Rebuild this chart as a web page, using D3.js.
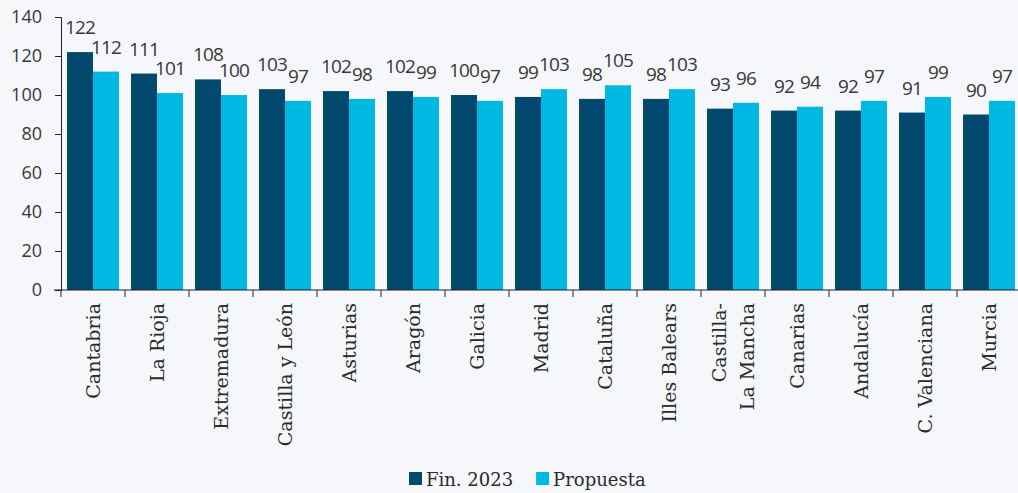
<!DOCTYPE html>
<html lang="es">
<head>
<meta charset="utf-8">
<title>Fin. 2023 vs Propuesta</title>
<script src="https://cdn.jsdelivr.net/npm/d3@7"></script>
<style>
html,body {margin:0; padding:0; background:#f5f7fa;}
svg {display:block;}
.num {font-family:"Open Sans",sans-serif; font-weight:400; fill:#383838;}
.cat {font-family:"DejaVu Serif",serif; fill:#2b2b2b;}
</style>
</head>
<body>
<script>
// regiones (orden del gráfico)
var regiones = ['Cantabria','La Rioja','Extremadura','Castilla y León','Asturias','Aragón','Galicia',
  'Madrid','Cataluña','Illes Balears','Castilla-\nLa Mancha','Canarias','Andalucía','C. Valenciana','Murcia']
var fin2023   = [122,111,108,103,102,102,100, 99, 98, 98, 93, 92, 92, 91, 90]
var propuesta = [112,101,100, 97, 98, 99, 97,103,105,103, 96, 94, 97, 99, 97]
var series = ['Fin. 2023','Propuesta']
var colores = ['#02486f','#00b9e2']
var yTicks = [0,20,40,60,80,100,120,140]

var W = 1018, H = 493
var m = {left:61, top:17, bottom:290, right:1021}

var svg = d3.select('body').append('svg').attr('width',W).attr('height',H)

var x = d3.scaleBand().domain(d3.range(regiones.length)).range([m.left,m.right])
          .paddingInner(0.1875).paddingOuter(0.09375)
var xs = d3.scaleBand().domain(series).range([0,x.bandwidth()])
var y = d3.scaleLinear().domain([0,140]).range([m.bottom,m.top])

var rows = regiones.map(function(r,i){ return {i:i, vals:[fin2023[i],propuesta[i]]} })

// barras
var g = svg.append('g')
var grp = g.selectAll('g.grp').data(rows).enter().append('g')
  .attr('transform', function(d){ return 'translate('+x(d.i)+',0)' })
grp.selectAll('rect').data(function(d){ return d.vals.map(function(v,k){ return {k:k,v:v} }) })
  .enter().append('rect')
  .attr('x', function(d){ return xs(series[d.k]) })
  .attr('width', xs.bandwidth())
  .attr('y', function(d){ return y(d.v) })
  .attr('height', function(d){ return y(0)-y(d.v) })
  .attr('fill', function(d){ return colores[d.k] })

// etiquetas de valor, con un pequeño ajuste para que no se pisen
grp.each(function(d){
  var gg = d3.select(this)
  var labs = d.vals.map(function(v,k){
    var t = gg.append('text').attr('class','num').attr('font-size',19)
      .attr('text-anchor','middle').attr('letter-spacing','-0.8')
      .attr('x', xs(series[k]) + xs.bandwidth()/2).text(v)
    return {t:t, b:y(v)-18, w:t.node().getComputedTextLength(), cx:xs(series[k]) + xs.bandwidth()/2}
  })
  var a = labs[0], b = labs[1]
  var hov = Math.abs(a.cx-b.cx) < (a.w+b.w)/2
  if (hov && Math.abs(a.b-b.b) < 15) {
    if (a.b <= b.b) a.b = b.b-15; else b.b = a.b-15
  }
  labs.forEach(function(l){ l.t.attr('y', l.b) })
})

// eje y
var yAxis = svg.append('g').attr('transform','translate('+m.left+',0)')
  .call(d3.axisLeft(y).tickValues(yTicks).tickSize(6).tickPadding(13))
yAxis.selectAll('text').attr('class','num').attr('font-size',18)
yAxis.selectAll('line,path').attr('stroke','#222')

// eje x (ticks en los límites de cada categoría)
var bounds = d3.range(regiones.length).map(function(i){ return x(i) - x.step()*x.paddingInner()/2 })
var xAxis = svg.append('g')
xAxis.append('line').attr('x1',m.left-7).attr('x2',m.right).attr('y1',y(0)).attr('y2',y(0)).attr('stroke','#222')
xAxis.selectAll('line.tk').data(bounds).enter().append('line')
  .attr('x1',function(d){ return d }).attr('x2',function(d){ return d })
  .attr('y1',y(0)).attr('y2',y(0)+7).attr('stroke','#222')

var cats = xAxis.selectAll('text.cat').data(regiones).enter().append('text')
  .attr('class','cat').attr('font-size',19).attr('text-anchor','end')
  .attr('transform', function(d,i){ return 'translate('+(x(i)+x.bandwidth()/2)+','+(y(0)+13)+') rotate(-90)' })
cats.each(function(d){
  var lines = d.split('\n'), t = d3.select(this)
  lines.forEach(function(s,j){
    t.append('tspan').attr('x',0)
      .attr('dy', j==0 ? (7 - (lines.length-1)*14) : 28).text(s)
  })
})

// leyenda
var leg = svg.append('g').attr('transform','translate(409,479)')
var lx = 0
series.forEach(function(s,k){
  leg.append('rect').attr('x',lx).attr('y',-7).attr('width',13).attr('height',13).attr('fill',colores[k])
  var t = leg.append('text').attr('class','cat').attr('font-size',18).attr('x',lx+17).attr('y',7).text(s)
  lx += 17 + t.node().getComputedTextLength() + 23
})
</script>
</body>
</html>
